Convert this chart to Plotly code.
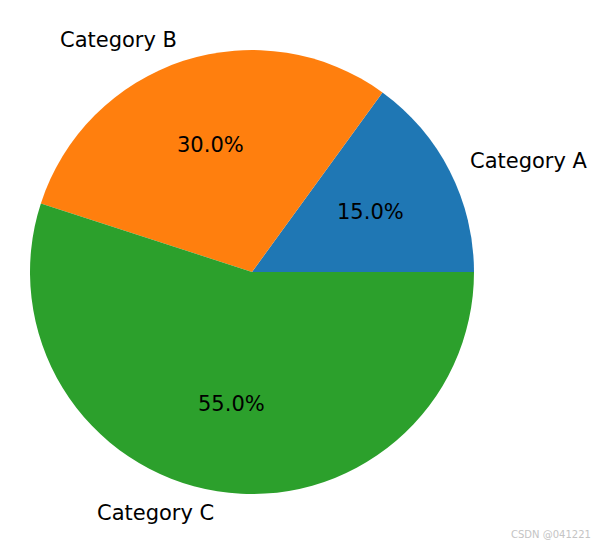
import numpy as np
import plotly.graph_objects as go

labels = ["Category A", "Category B", "Category C"]
values = [15, 30, 55]
colors = ["#1f77b4", "#ff7f0e", "#2ca02c"]

W, H = 603, 547
cx_px, cy_px, r_px = 252, 272, 222

vals = np.array(values, dtype=float)
frac = vals / vals.sum()

fig = go.Figure()
# plotly ccw: the first slice ends at `rotation`; make it start at 3 o'clock
fig.add_trace(go.Pie(
    labels=labels, values=values, sort=False, direction="counterclockwise",
    rotation=90 - 360 * frac[0], textinfo="none", hoverinfo="label+percent",
    marker=dict(colors=colors, line=dict(width=0)),
    domain=dict(x=[(cx_px - r_px) / W, (cx_px + r_px) / W],
                y=[(H - cy_px - r_px) / H, (H - cy_px + r_px) / H]),
    showlegend=False,
))

mid = (np.cumsum(frac) - frac / 2) * 2 * np.pi
lx, ly = 1.1 * np.cos(mid), 1.1 * np.sin(mid)
px_, py_ = 0.6 * np.cos(mid), 0.6 * np.sin(mid)
pct = [f"{f*100:.1f}%" for f in frac]
font = dict(family="DejaVu Sans", size=21, color="black")

for x, y, t in zip(px_, py_, pct):
    fig.add_annotation(x=x, y=y, xref="x", yref="y", text=t, showarrow=False,
                       xanchor="center", yanchor="middle", font=font)
for x, y, t in zip(lx, ly, labels):
    right = x > 0
    fig.add_annotation(x=x, y=y, xref="x", yref="y", text=t, showarrow=False,
                       xanchor="left" if right else "right", yanchor="middle",
                       xshift=-2 if right else 2, font=font)

# invisible anchor trace so the cartesian axes exist
fig.add_trace(go.Scatter(x=[0], y=[0], mode="markers", marker=dict(opacity=0),
                         hoverinfo="skip", showlegend=False))

fig.update_xaxes(range=[-cx_px / r_px, (W - cx_px) / r_px], visible=False, fixedrange=True)
fig.update_yaxes(range=[-(H - cy_px) / r_px, cy_px / r_px], visible=False, fixedrange=True)

fig.add_annotation(text="CSDN @041221", xref="paper", yref="paper", x=0.983, y=0.009,
                   xanchor="right", yanchor="bottom", showarrow=False,
                   font=dict(family="DejaVu Sans", size=10, color="#c4c4c4"))

fig.update_layout(width=W, height=H, margin=dict(l=0, r=0, t=0, b=0),
                  paper_bgcolor="white", plot_bgcolor="white")
fig.write_html("out.html", post_script="document.body.style.margin='0';",
               config={"displayModeBar": False})
